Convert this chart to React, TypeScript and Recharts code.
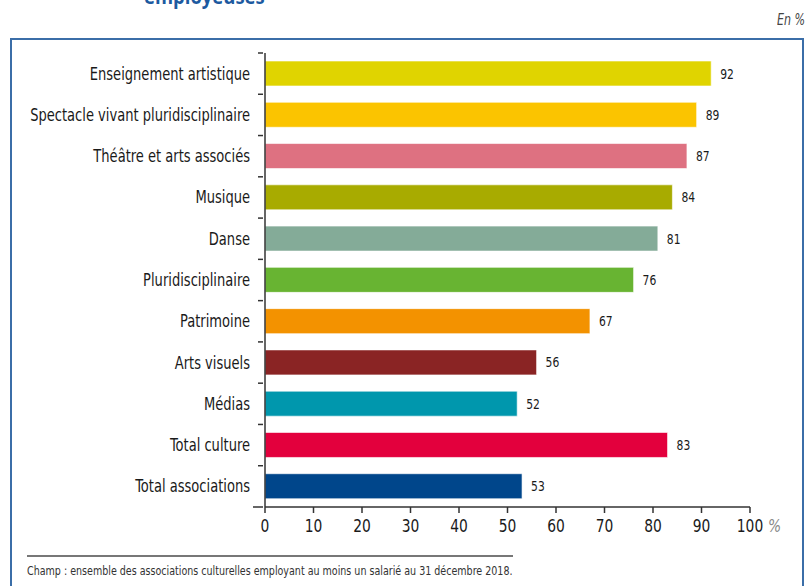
import { Bar, BarChart, Cell, LabelList, XAxis, YAxis } from "recharts";

const categories = [
  "Enseignement artistique",
  "Spectacle vivant pluridisciplinaire",
  "Théâtre et arts associés",
  "Musique",
  "Danse",
  "Pluridisciplinaire",
  "Patrimoine",
  "Arts visuels",
  "Médias",
  "Total culture",
  "Total associations",
];
const shares = [92, 89, 87, 84, 81, 76, 67, 56, 52, 83, 53];
const xTicks = [0, 10, 20, 30, 40, 50, 60, 70, 80, 90, 100];

const barColors = [
  "#e0d400",
  "#fbc400",
  "#de7181",
  "#a8ab00",
  "#84ab98",
  "#68b432",
  "#f39200",
  "#8a2424",
  "#0097ad",
  "#e3003d",
  "#00468b",
];

const data = categories.map((name, i) => ({ name, value: shares[i] }));

const FONT = '"DejaVu Sans Condensed", "DejaVu Sans", sans-serif';
const SQUEEZE = 0.855; // the original uses a condensed face
const PLOT_TOP = 53;
const PLOT_BOTTOM = 507;
const BAND = (PLOT_BOTTOM - PLOT_TOP) / categories.length;

const CategoryTick = ({ x, y, payload, index }: any) => {
  const last = index === categories.length - 1;
  return (
    <g>
      <line x1={x - 5} x2={x} y1={y - BAND / 2} y2={y - BAND / 2} stroke="#333" strokeWidth={1.5} />
      {last && (
        <line x1={x - 10} x2={x} y1={y + BAND / 2} y2={y + BAND / 2} stroke="#333" strokeWidth={1.5} />
      )}
      <text
        transform={`translate(${x - 13},${y}) scale(${SQUEEZE},1)`}
        dy={6}
        textAnchor="end"
        fontSize={17}
        fill="#1a1a1a"
        fontFamily={FONT}
      >
        {payload.value}
      </text>
    </g>
  );
};

const ValueTick = ({ x, y, payload }: any) => (
  <g>
    <text
      transform={`translate(${x},${y}) scale(${SQUEEZE},1)`}
      dy={17}
      textAnchor="middle"
      fontSize={18}
      fill="#1a1a1a"
      fontFamily={FONT}
    >
      {payload.value}
    </text>
    {payload.value === 100 && (
      <text
        transform={`translate(${x + 18},${y}) scale(${SQUEEZE},1)`}
        dy={17}
        fontSize={18}
        fill="#888"
        fontFamily={FONT}
        fontStyle="italic"
      >
        %
      </text>
    )}
  </g>
);

const BarValue = ({ x, y, width, height, value }: any) => (
  <text
    transform={`translate(${x + width + 9},${y + height / 2}) scale(${SQUEEZE},1)`}
    dy={5}
    fontSize={14}
    fill="#1a1a1a"
    fontFamily={FONT}
  >
    {value}
  </text>
);

const squeezed = (s: number): any => ({ transform: `scaleX(${s})`, transformOrigin: "left top", whiteSpace: "nowrap" });

const App = () => {
  return (
    <div style={{ position: "absolute", left: 0, top: 0, width: 806, height: 586, overflow: "hidden", background: "#fff", fontFamily: FONT }}>
      <div style={{ position: "absolute", left: 144, top: -16, fontSize: 22, fontWeight: "bold", color: "#1d5aa0", fontFamily: '"Open Sans", sans-serif', lineHeight: "22px", ...squeezed(0.84) }}>
        employeuses
      </div>
      <div style={{ position: "absolute", left: 777, top: 11, fontSize: 15, fontStyle: "italic", color: "#444", ...squeezed(0.82) }}>
        En %
      </div>
      <div style={{ position: "absolute", left: 10, top: 38, width: 794, height: 560, border: "2px solid #3b6ea8", boxSizing: "border-box" }} />
      <div style={{ position: "absolute", left: 0, top: 0 }}>
        <BarChart
          width={806}
          height={586}
          layout="vertical"
          data={data}
          margin={{ top: PLOT_TOP, right: 56, left: 10, bottom: 586 - PLOT_BOTTOM - 30 }}
        >
          <XAxis
            type="number"
            domain={[0, 100]}
            ticks={xTicks}
            height={30}
            tick={<ValueTick />}
            tickSize={6}
            tickLine={{ stroke: "#333", strokeWidth: 1.5 }}
            axisLine={{ stroke: "#333", strokeWidth: 1.5 }}
            interval={0}
          />
          <YAxis
            type="category"
            dataKey="name"
            width={255}
            tick={<CategoryTick />}
            tickLine={false}
            tickSize={0}
            axisLine={{ stroke: "#333", strokeWidth: 1.5 }}
            interval={0}
          />
          <Bar dataKey="value" barSize={25} isAnimationActive={false} stroke="rgba(255,255,255,0.6)" strokeWidth={1}>
            {data.map((d, i) => (
              <Cell key={d.name} fill={barColors[i]} />
            ))}
            <LabelList dataKey="value" content={<BarValue />} />
          </Bar>
        </BarChart>
      </div>
      <div style={{ position: "absolute", left: 27, top: 555, width: 486, borderTop: "2px solid #777" }} />
      <div style={{ position: "absolute", left: 27, top: 563, fontSize: 13, color: "#333", ...squeezed(0.815) }}>
        Champ : ensemble des associations culturelles employant au moins un salarié au 31 décembre 2018.
      </div>
    </div>
  );
};

export default App;
